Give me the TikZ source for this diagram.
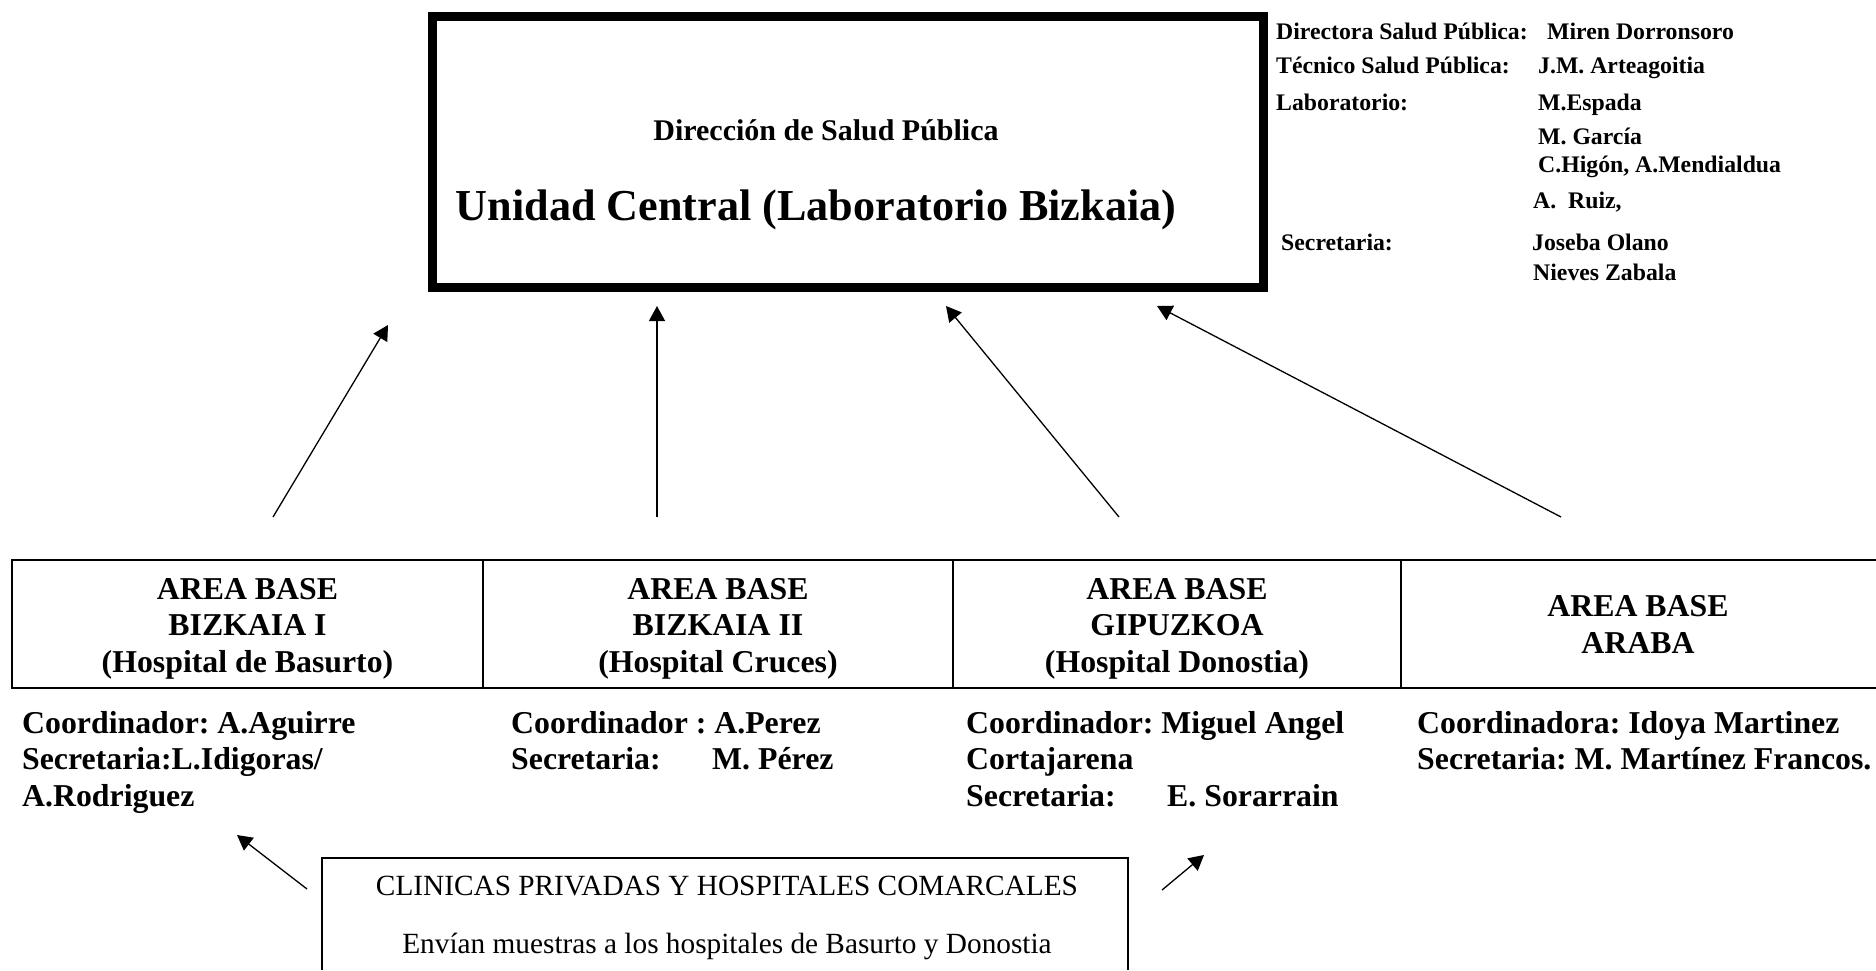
\documentclass[tikz,border=0pt]{standalone}
\usepackage{fontspec}
\setmainfont{Liberation Serif}
\usepackage{tikz}
\usetikzlibrary{arrows.meta}
\frenchspacing

\begin{document}
\begin{tikzpicture}[x=1pt, y=-1pt,
    flecha/.style={line width=1.3pt, -{Triangle[length=15pt, width=16pt]}},
    marco/.style={line width=2pt},
    negrita/.style={font=\bfseries\fontsize{31.8}{36.5}\selectfont, inner sep=0pt},
    dato/.style={font=\bfseries\fontsize{23.75}{28}\selectfont, inner sep=0pt, anchor=base west},
    texto/.style={font=\fontsize{29.3}{34}\selectfont, inner sep=0pt, anchor=base}]
    \useasboundingbox (0,0) rectangle (1876,970);
    % unidad central
    \node[draw, line width=9pt, minimum width=831pt, minimum height=271pt, inner sep=0pt] (central) at (848,152) {};
    \node[font=\bfseries\fontsize{30}{34}\selectfont, inner sep=0pt, anchor=base] (direccion) at (826,140) {Dirección de Salud Pública};
    \node[font=\bfseries\fontsize{44.2}{50}\selectfont, inner sep=0pt, anchor=base] (unidad) at (816,220) {Unidad Central (Laboratorio Bizkaia)};
    % personal
    \foreach \y/\t [count=\i] in {39/Directora Salud Pública:, 73/Técnico Salud Pública:, 110/Laboratorio:}
        \node[dato] (cargo\i) at (1276,\y) {\t};
    \node[dato] (cargo4) at (1281,250) {Secretaria:};
    \foreach \x/\y/\t [count=\i] in {1547/39/Miren Dorronsoro, 1538/73/J.M. Arteagoitia, 1538/110/M.Espada,
        1538/144/M. García, 1538/172/{C.Higón, A.Mendialdua}, 1533/208/{A.\ \ Ruiz,},
        1532/250/Joseba Olano, 1533/280/Nieves Zabala}
        \node[dato] (nombre\i) at (\x,\y) {\t};
    % areas base
    \draw[marco] (1876,560) -- (12,560) -- (12,688) -- (1876,688);
    \foreach \x in {483,953,1401}
        \draw[marco] (\x,560) -- (\x,688);
    \node[negrita, align=center] (bizkaia1) at (247.5,628.5) {AREA BASE\\BIZKAIA I\\(Hospital de Basurto)};
    \node[negrita, align=center] (bizkaia2) at (718,628.5) {AREA BASE\\BIZKAIA II\\(Hospital Cruces)};
    \node[negrita, align=center] (gipuzkoa) at (1177,628.5) {AREA BASE\\GIPUZKOA\\(Hospital Donostia)};
    \node[negrita, align=center] (araba) at (1638,624.5) {AREA BASE\\ARABA};
    \node[negrita, align=left, anchor=north west] (coord1) at (22,711) {Coordinador: A.Aguirre\\Secretaria:L.Idigoras/\\A.Rodriguez};
    \node[negrita, align=left, anchor=north west] (coord2) at (511,711) {Coordinador : A.Perez\\\makebox[201pt][l]{Secretaria:}M. Pérez};
    \node[negrita, align=left, anchor=north west] (coord3) at (966,711) {Coordinador: Miguel Angel\\Cortajarena\\\makebox[201pt][l]{Secretaria:}E. Sorarrain};
    \node[negrita, align=left, anchor=north west] (coord4) at (1417,711) {Coordinadora: Idoya Martinez\\Secretaria: M. Martínez Francos.};
    % clinicas
    \draw[line width=1.5pt] (322,970) -- (322,858) -- (1128,858) -- (1128,970);
    \node[texto] (clinicas) at (727,895) {CLINICAS PRIVADAS Y HOSPITALES COMARCALES};
    \node[texto] (envian) at (727,953) {Envían muestras a los hospitales de Basurto y Donostia};
    % flechas
    \coordinate (ini1) at (273,517);  \coordinate (fin1) at (388,325);
    \coordinate (ini2) at (657,517);  \coordinate (fin2) at (657,306);
    \coordinate (ini3) at (1119,517); \coordinate (fin3) at (946,306);
    \coordinate (ini4) at (1561,517); \coordinate (fin4) at (1157,306);
    \coordinate (ini5) at (307,889);  \coordinate (fin5) at (237,835);
    \coordinate (ini6) at (1162,890); \coordinate (fin6) at (1204,855);
    \foreach \i in {1,...,6}
        \draw[flecha] (ini\i) -- (fin\i);
\end{tikzpicture}
\end{document}
